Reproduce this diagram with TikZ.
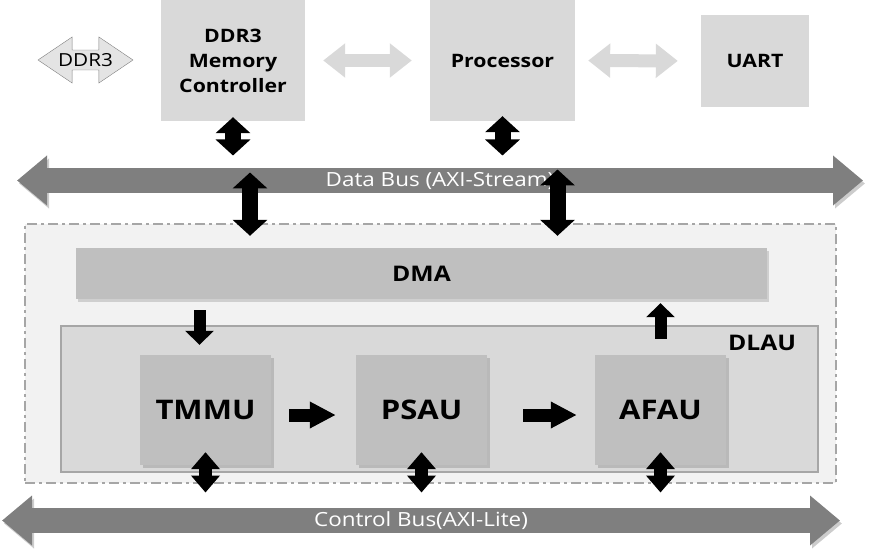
\documentclass[tikz,border=0pt]{standalone}
\usepackage{fontspec}
\setmainfont{Open Sans}[FakeStretch=1.15]
\usetikzlibrary{arrows.meta,shapes.arrows,shadows,calc}

\definecolor{boxgray}{HTML}{D9D9D9}
\definecolor{unitgray}{HTML}{BFBFBF}
\definecolor{busgray}{HTML}{7F7F7F}
\definecolor{zonegray}{HTML}{F2F2F2}
\definecolor{edgegray}{HTML}{A6A6A6}

\tikzset{
  topbox/.style={fill=boxgray, align=center, inner sep=0pt, font=\bfseries\fontsize{18.5}{25}\selectfont},
  unit/.style={fill=unitgray, minimum width=131pt, minimum height=110pt,
    drop shadow={shadow xshift=3pt, shadow yshift=-3pt, opacity=.35},
    font=\bfseries\fontsize{27}{30}\selectfont},
  bus/.style={draw=busgray, line width=25pt,
    preaction={draw=black!20, transform canvas={shift={(2pt,-3pt)}}},
    {Triangle[length=30pt,width=48pt]}-{Triangle[length=30pt,width=48pt]}},
  bustext/.style={text=white, inner sep=0pt, minimum height=25pt, font=\fontsize{19.5}{22}\selectfont},
  lightlink/.style={draw=boxgray, line width=13pt,
    {Triangle[length=22pt,width=33pt]}-{Triangle[length=22pt,width=33pt]}},
  vlink/.style={draw=black, line width=16pt,
    {Triangle[length=16pt,width=34pt]}-{Triangle[length=16pt,width=34pt]}},
  ctllink/.style={draw=black, line width=13pt,
    {Triangle[length=17pt,width=28pt]}-{Triangle[length=17pt,width=28pt]}},
  uplink/.style={draw=black, line width=12pt, -{Triangle[length=14pt,width=28pt]}},
  hlink/.style={draw=black, line width=13pt, -{Triangle[length=26pt,width=25pt]}},
}

\begin{document}
\begin{tikzpicture}[x=1pt,y=-1pt]
  \useasboundingbox (0,0) rectangle (872,556);

  % top row
  \node[topbox, minimum width=144pt, minimum height=121pt] (mc) at (233,60.5) {DDR3\\Memory\\Controller};
  \node[topbox, minimum width=145pt, minimum height=121pt] (proc) at (502.5,60.5) {Processor};
  \node[topbox, minimum width=108pt, minimum height=92pt] (uart) at (755,61) {UART};
  \node[double arrow, draw=busgray, fill=boxgray!70, minimum height=95pt, minimum width=46pt,
    double arrow head extend=11.5pt, double arrow tip angle=68, inner sep=2pt,
    font=\fontsize{18}{20}\selectfont] (ddr) at (85.5,60) {DDR3};

  % buses
  \coordinate (dbl) at (17,180.5);
  \coordinate (dbr) at (863,180.5);
  \draw[bus] (dbl) -- (dbr) node[midway, bustext] (dbus) {Data Bus (AXI-Stream)};
  \coordinate (cbl) at (2,520.5);
  \coordinate (cbr) at (840,520.5);
  \draw[bus] (cbl) -- (cbr) node[midway, bustext] (cbus) {Control Bus(AXI-Lite)};

  % accelerator
  \node[draw=edgegray, fill=zonegray, line width=1.5pt, dash pattern=on 10pt off 4pt on 3pt off 4pt,
    minimum width=811pt, minimum height=259pt] (zone) at (430.5,353.5) {};
  \node[fill=unitgray, minimum width=691pt, minimum height=51pt,
    drop shadow={shadow xshift=2pt, shadow yshift=-3pt, opacity=.3},
    font=\bfseries\fontsize{21.5}{24}\selectfont] (dma) at (421.5,273.5) {DMA};
  \node[draw=edgegray, fill=boxgray, line width=2pt, minimum width=757pt, minimum height=146pt] (dlau) at (439.5,399) {};
  \node[font=\bfseries\fontsize{21.5}{24}\selectfont] (dlaulabel) at (762,343) {DLAU};
  \node[unit] (tmmu) at (205.5,410) {TMMU};
  \node[unit] (psau) at (421.5,410) {PSAU};
  \node[unit] (afau) at (660.5,410) {AFAU};

  % links
  \draw[lightlink, shorten <=18pt, shorten >=18pt] (mc.east) -- (proc.west);
  \draw[lightlink, shorten <=13pt, shorten >=23pt] (proc.east) -- (uart.west);
  \draw[vlink] ([yshift=4pt]mc.south) -- (mc.south |- dbus.north);
  \draw[vlink] ([yshift=5pt]proc.south) -- (proc.south |- dbus.north);
  \draw[vlink] ($(mc.south |- dbus.north)+(17,17)$) -- ($(mc.south |- dma.north)+(17,-12)$);
  \draw[vlink] ($(proc.south |- dbus.north)+(55,14)$) -- ($(proc.south |- dma.north)+(55,-12)$);
  \draw[uplink] ($(dma.south -| tmmu.north)+(-6,11)$) -- ($(tmmu.north)+(-6,-10)$);
  \draw[uplink] ($(afau.north)+(0,-16)$) -- ($(dma.south -| afau.north)+(0,4)$);
  \draw[hlink, shorten <=18pt, shorten >=20pt] ([yshift=-5pt]tmmu.east) -- ([yshift=-5pt]psau.west);
  \draw[hlink, shorten <=36pt, shorten >=18pt] ([yshift=-5pt]psau.east) -- ([yshift=-5pt]afau.west);
  \draw[ctllink] ($(tmmu.south)+(0,-13)$) -- ($(tmmu.south |- cbus.north)+(0,-3)$);
  \draw[ctllink] ($(psau.south)+(0,-13)$) -- ($(psau.south |- cbus.north)+(0,-3)$);
  \draw[ctllink] ($(afau.south)+(0,-13)$) -- ($(afau.south |- cbus.north)+(0,-3)$);
\end{tikzpicture}
\end{document}
